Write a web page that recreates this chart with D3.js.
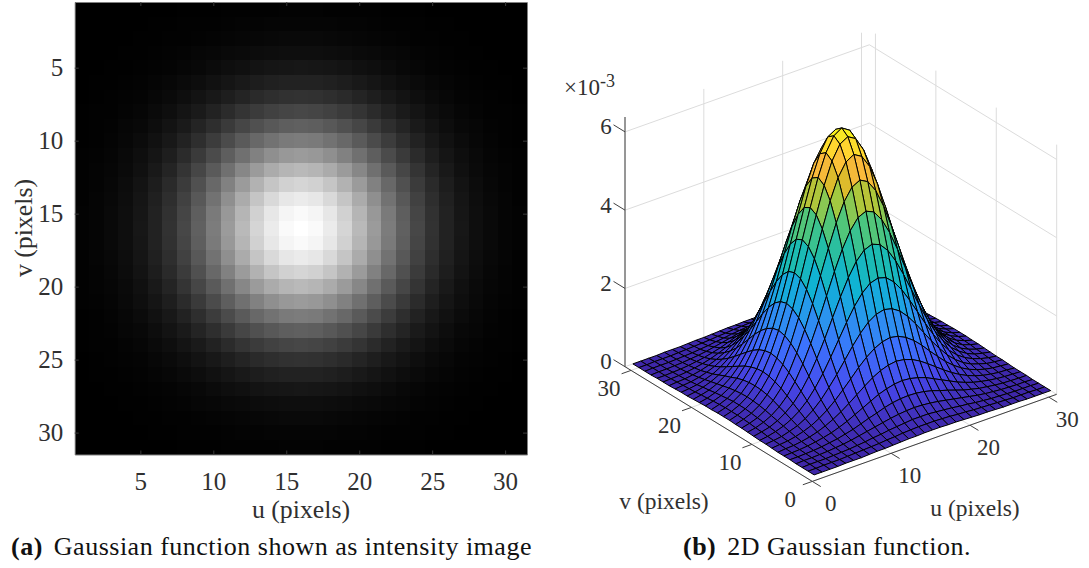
<!DOCTYPE html>
<html>
<head>
<meta charset="utf-8">
<script src="https://cdn.jsdelivr.net/npm/d3@7"></script>
<style>
  body { margin: 0; background: #fff; }
  svg { display: block; }
  text { font-family: "Liberation Serif", serif; fill: #303030; }
  text.caption { fill: #111; }
</style>
</head>
<body>
<script>
// pixel index 1..31 on both axes
const pixels = [1,2,3,4,5,6,7,8,9,10,11,12,13,14,15,16,17,18,19,20,21,22,23,24,25,26,27,28,29,30,31];

// gaussian heights, in units of 1e-5, one row per v
const zRows = [
  [0,0,0,0,1,1,1,2,3,3,4,5,6,6,7,7,7,6,6,5,4,3,3,2,1,1,1,0,0,0,0],
  [0,0,1,1,1,2,3,4,5,6,8,9,11,12,13,13,13,12,11,9,8,6,5,4,3,2,1,1,1,0,0],
  [0,1,1,1,2,3,4,6,8,11,13,16,18,20,22,22,22,20,18,16,13,11,8,6,4,3,2,1,1,1,0],
  [0,1,1,2,3,5,7,10,14,18,22,26,30,33,35,36,35,33,30,26,22,18,14,10,7,5,3,2,1,1,0],
  [1,1,2,3,5,8,11,16,21,28,35,41,48,53,56,57,56,53,48,41,35,28,21,16,11,8,5,3,2,1,1],
  [1,2,3,5,8,12,17,24,32,42,52,62,72,79,84,86,84,79,72,62,52,42,32,24,17,12,8,5,3,2,1],
  [1,3,4,7,11,17,25,35,47,61,76,91,105,116,123,126,123,116,105,91,76,61,47,35,25,17,11,7,4,3,1],
  [2,4,6,10,16,24,35,49,66,86,107,129,148,163,173,177,173,163,148,129,107,86,66,49,35,24,16,10,6,4,2],
  [3,5,8,14,21,32,47,66,90,116,145,174,200,221,234,239,234,221,200,174,145,116,90,66,47,32,21,14,8,5,3],
  [3,6,11,18,28,42,61,86,116,151,188,225,259,286,304,310,304,286,259,225,188,151,116,86,61,42,28,18,11,6,3],
  [4,8,13,22,35,52,76,107,145,188,235,281,323,357,379,387,379,357,323,281,235,188,145,107,76,52,35,22,13,8,4],
  [5,9,16,26,41,62,91,129,174,225,281,336,386,426,453,462,453,426,386,336,281,225,174,129,91,62,41,26,16,9,5],
  [6,11,18,30,48,72,105,148,200,259,323,386,444,491,521,532,521,491,444,386,323,259,200,148,105,72,48,30,18,11,6],
  [6,12,20,33,53,79,116,163,221,286,357,426,491,543,576,588,576,543,491,426,357,286,221,163,116,79,53,33,20,12,6],
  [7,13,22,35,56,84,123,173,234,304,379,453,521,576,612,624,612,576,521,453,379,304,234,173,123,84,56,35,22,13,7],
  [7,13,22,36,57,86,126,177,239,310,387,462,532,588,624,637,624,588,532,462,387,310,239,177,126,86,57,36,22,13,7],
  [7,13,22,35,56,84,123,173,234,304,379,453,521,576,612,624,612,576,521,453,379,304,234,173,123,84,56,35,22,13,7],
  [6,12,20,33,53,79,116,163,221,286,357,426,491,543,576,588,576,543,491,426,357,286,221,163,116,79,53,33,20,12,6],
  [6,11,18,30,48,72,105,148,200,259,323,386,444,491,521,532,521,491,444,386,323,259,200,148,105,72,48,30,18,11,6],
  [5,9,16,26,41,62,91,129,174,225,281,336,386,426,453,462,453,426,386,336,281,225,174,129,91,62,41,26,16,9,5],
  [4,8,13,22,35,52,76,107,145,188,235,281,323,357,379,387,379,357,323,281,235,188,145,107,76,52,35,22,13,8,4],
  [3,6,11,18,28,42,61,86,116,151,188,225,259,286,304,310,304,286,259,225,188,151,116,86,61,42,28,18,11,6,3],
  [3,5,8,14,21,32,47,66,90,116,145,174,200,221,234,239,234,221,200,174,145,116,90,66,47,32,21,14,8,5,3],
  [2,4,6,10,16,24,35,49,66,86,107,129,148,163,173,177,173,163,148,129,107,86,66,49,35,24,16,10,6,4,2],
  [1,3,4,7,11,17,25,35,47,61,76,91,105,116,123,126,123,116,105,91,76,61,47,35,25,17,11,7,4,3,1],
  [1,2,3,5,8,12,17,24,32,42,52,62,72,79,84,86,84,79,72,62,52,42,32,24,17,12,8,5,3,2,1],
  [1,1,2,3,5,8,11,16,21,28,35,41,48,53,56,57,56,53,48,41,35,28,21,16,11,8,5,3,2,1,1],
  [0,1,1,2,3,5,7,10,14,18,22,26,30,33,35,36,35,33,30,26,22,18,14,10,7,5,3,2,1,1,0],
  [0,1,1,1,2,3,4,6,8,11,13,16,18,20,22,22,22,20,18,16,13,11,8,6,4,3,2,1,1,1,0],
  [0,0,1,1,1,2,3,4,5,6,8,9,11,12,13,13,13,12,11,9,8,6,5,4,3,2,1,1,1,0,0],
  [0,0,0,0,1,1,1,2,3,3,4,5,6,6,7,7,7,6,6,5,4,3,3,2,1,1,1,0,0,0,0]
];

const imageTicks = [5, 10, 15, 20, 25, 30];
const surfaceTicks = [0, 10, 20, 30];
const zTicks = [0, 2, 4, 6];
const zMax = 638;   // top of the 3d box, same units as zRows

const svg = d3.select('body').append('svg')
  .attr('width', 1089)
  .attr('height', 568);

/* left panel: intensity image */
const imgX = d3.scaleLinear().domain([0.5, 31.5]).range([74.7, 527]);
const imgY = d3.scaleLinear().domain([0.5, 31.5]).range([2, 454.5]);
const grey = d3.scaleLinear().domain([0, 637]).range(['#000', '#fff']);

const image = svg.append('g').attr('class', 'image').attr('shape-rendering', 'crispEdges');
zRows.forEach((row, r) => {
  image.append('g').selectAll('rect')
    .data(row)
    .enter().append('rect')
    .attr('x', (d, c) => Math.round(imgX(pixels[c] - 0.5)))
    .attr('y', Math.round(imgY(pixels[r] - 0.5)))
    .attr('width', (d, c) => Math.round(imgX(pixels[c] + 0.5)) - Math.round(imgX(pixels[c] - 0.5)))
    .attr('height', Math.round(imgY(pixels[r] + 0.5)) - Math.round(imgY(pixels[r] - 0.5)))
    .attr('fill', d => grey(d));
});

const axisFont = g => g.selectAll('text').style('font-size', '25px').style('font-family', '"Liberation Serif", serif').attr('fill', '#303030');
const axisLines = g => {
  g.selectAll('.domain').attr('stroke', '#808080');
  g.selectAll('line').attr('stroke', '#3a3a3a');
};

svg.append('g')
  .attr('transform', `translate(0,${imgY.range()[1]})`)
  .call(d3.axisBottom(imgX).tickValues(imageTicks).tickSizeOuter(0).tickSizeInner(-4).tickPadding(17.8))
  .call(axisFont).call(axisLines);
svg.append('g')
  .attr('transform', `translate(${imgX.range()[0]},0)`)
  .call(d3.axisLeft(imgY).tickValues(imageTicks).tickSizeOuter(0).tickSizeInner(-4).tickPadding(11.5))
  .call(axisFont).call(axisLines);
svg.append('g')
  .attr('transform', `translate(0,${imgY.range()[0]})`)
  .call(d3.axisTop(imgX).tickValues(imageTicks).tickSizeOuter(0).tickSizeInner(-4).tickFormat(''))
  .call(axisLines);
svg.append('g')
  .attr('transform', `translate(${imgX.range()[1]},0)`)
  .call(d3.axisRight(imgY).tickValues(imageTicks).tickSizeOuter(0).tickSizeInner(-4).tickFormat(''))
  .call(axisLines);

svg.append('text')
  .attr('x', 301).attr('y', 518)
  .attr('text-anchor', 'middle')
  .style('font-size', '25.8px')
  .text('u (pixels)');
svg.append('text')
  .attr('transform', 'translate(32,228) rotate(-90)')
  .attr('text-anchor', 'middle')
  .style('font-size', '25.8px')
  .text('v (pixels)');

/* right panel: surface, parallel projection */
const uX = d3.scaleLinear().domain([0, 31]).range([0, 244.4]);
const uY = d3.scaleLinear().domain([0, 31]).range([0, -87.1]);
const vX = d3.scaleLinear().domain([0, 31]).range([0, -187.3]);
const vY = d3.scaleLinear().domain([0, 31]).range([0, -114.7]);
const zY = d3.scaleLinear().domain([0, zMax]).range([0, -249.7]);
const project = (u, v, z) => [812.3 + uX(u) + vX(v), 481.4 + uY(u) + vY(v) + zY(z)];
const line = d3.line();

const parula = d3.scaleLinear()
  .domain([0, 0.1, 0.2, 0.3, 0.4, 0.5, 0.6, 0.7, 0.77, 0.83, 0.9, 0.96, 1])
  .range(['#3e26a8', '#4748ec', '#3c72fd', '#2a96ee', '#0fb2d6', '#1fbcab', '#4cc67e', '#a5c93f', '#ddbb2c', '#fbb83c', '#ffd530', '#f9e825', '#f9fb15']);

const grid = svg.append('g').attr('class', 'grid')
  .attr('fill', 'none').attr('stroke', '#dcdcdc').attr('stroke-width', 1);
const wall = [
  ...surfaceTicks.map(t => [[t, 31, 0], [t, 31, zMax]]),
  ...surfaceTicks.map(t => [[31, t, 0], [31, t, zMax]]),
  ...surfaceTicks.map(t => [[t, 0, 0], [t, 31, 0]]),
  ...surfaceTicks.map(t => [[0, t, 0], [31, t, 0]]),
  ...zTicks.map(t => [[0, 31, t * 100], [31, 31, t * 100], [31, 0, t * 100]])
];
grid.selectAll('path')
  .data(wall)
  .enter().append('path')
  .attr('d', d => line(d.map(p => project(...p))));

// back to front so nearer facets cover farther ones
const facets = [];
for (let v = 29; v >= 0; v--) {
  for (let u = 29; u >= 0; u--) {
    facets.push({ u, v });
  }
}
const vertex = (u, v) => project(pixels[u], pixels[v], zRows[v][u]);
svg.append('g').attr('class', 'surface')
  .selectAll('path')
  .data(facets)
  .enter().append('path')
  .attr('d', d => line([vertex(d.u, d.v), vertex(d.u + 1, d.v), vertex(d.u + 1, d.v + 1), vertex(d.u, d.v + 1)]) + 'Z')
  .attr('fill', d => parula(zRows[d.v][d.u] / 637))
  .attr('stroke', '#000')
  .attr('stroke-width', 1)
  .attr('stroke-linejoin', 'round');

const axes = svg.append('g').attr('class', 'axes3d')
  .attr('fill', 'none').attr('stroke', '#404040').attr('stroke-width', 1);
const axisPaths = [
  [[0, 31, 0], [0, 31, zMax]],
  [[0, 0, 0], [31, 0, 0]],
  [[0, 0, 0], [0, 31, 0]],
  ...zTicks.map(t => [[0, 31, t * 100], [0, 32.9, t * 100]]),
  ...surfaceTicks.map(t => [[t, 0, 0], [t, -1.4, 0]]),
  ...surfaceTicks.map(t => [[0, t, 0], [-1.2, t, 0]])
];
axes.selectAll('path')
  .data(axisPaths)
  .enter().append('path')
  .attr('d', d => line(d.map(p => project(...p))));

const tickStyle = sel => sel.style('font-size', '23px').attr('text-anchor', 'middle');
svg.append('g').selectAll('text')
  .data(zTicks)
  .enter().append('text')
  .attr('x', d => project(0, 31, d * 100)[0] - 19)
  .attr('y', d => project(0, 31, d * 100)[1] + 2.5)
  .text(d => d)
  .call(tickStyle);
svg.append('g').selectAll('text')
  .data(surfaceTicks)
  .enter().append('text')
  .attr('x', d => project(0, d, 0)[0] - 22)
  .attr('y', d => project(0, d, 0)[1] + 26)
  .text(d => d)
  .call(tickStyle);
svg.append('g').selectAll('text')
  .data(surfaceTicks)
  .enter().append('text')
  .attr('x', d => project(d, 0, 0)[0] + 18.5)
  .attr('y', d => project(d, 0, 0)[1] + 30)
  .text(d => d)
  .call(tickStyle);

svg.append('text')
  .attr('x', 664).attr('y', 509)
  .attr('text-anchor', 'middle')
  .style('font-size', '23.5px')
  .text('v (pixels)');
svg.append('text')
  .attr('x', 975).attr('y', 516)
  .attr('text-anchor', 'middle')
  .style('font-size', '23.5px')
  .text('u (pixels)');

const mult = svg.append('text')
  .attr('x', 564).attr('y', 95)
  .style('font-size', '23px');
mult.append('tspan').text('×10');
mult.append('tspan').attr('dy', -8).style('font-size', '18px').text('-3');

/* captions */
const caption = (x, y, tag, body) => {
  const t = svg.append('text').attr('class', 'caption')
    .attr('x', x).attr('y', y)
    .style('font-size', '26px')
    .style('letter-spacing', '0.5px');
  t.append('tspan').style('font-weight', 'bold').text(tag);
  t.append('tspan').attr('dx', 11).text(body);
};
caption(11, 555, '(a)', 'Gaussian function shown as intensity image');
caption(683, 555, '(b)', '2D Gaussian function.');
</script>
</body>
</html>
